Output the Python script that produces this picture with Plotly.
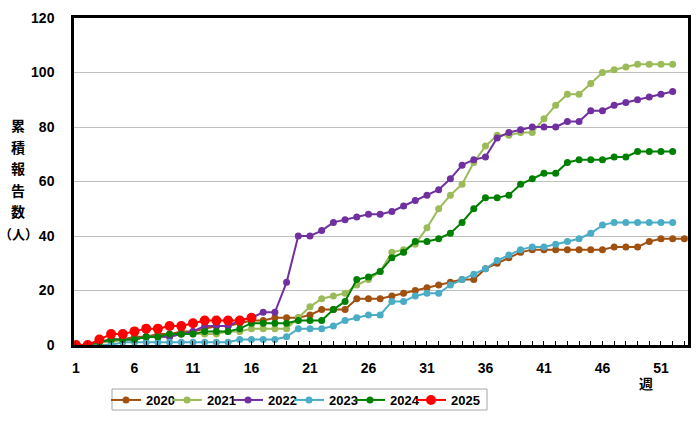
import plotly.graph_objects as go

weeks_2020 = list(range(1, 54))
weeks = list(range(1, 53))
weeks_2025 = list(range(1, 17))

y2020 = [0, 0, 1, 2, 2, 3, 3, 4, 4, 5, 5, 6, 7, 7, 8, 9, 9, 10, 10, 10,
         11, 13, 13, 13, 17, 17, 17, 18, 19, 20, 21, 22, 23, 24, 24, 28, 30, 32, 34, 35,
         35, 35, 35, 35, 35, 35, 36, 36, 36, 38, 39, 39, 39]
y2021 = [0, 0, 1, 1, 2, 2, 3, 3, 3, 4, 4, 4, 4, 5, 5, 6, 6, 6, 6, 10,
         14, 17, 18, 19, 22, 24, 27, 34, 35, 37, 43, 50, 55, 59, 67, 73, 77, 77, 78, 78,
         83, 88, 92, 92, 96, 100, 101, 102, 103, 103, 103, 103]
y2022 = [0, 0, 1, 2, 2, 2, 3, 3, 3, 4, 5, 7, 7, 7, 9, 10, 12, 12, 23, 40,
         40, 42, 45, 46, 47, 48, 48, 49, 51, 53, 55, 57, 61, 66, 68, 69, 76, 78, 79, 80,
         80, 80, 82, 82, 86, 86, 88, 89, 90, 91, 92, 93]
y2023 = [0, 0, 0, 0, 1, 1, 1, 1, 1, 1, 1, 1, 1, 1, 2, 2, 2, 2, 3, 6,
         6, 6, 7, 9, 10, 11, 11, 16, 16, 18, 19, 19, 22, 24, 26, 28, 31, 33, 35, 36,
         36, 37, 38, 39, 41, 44, 45, 45, 45, 45, 45, 45]
y2024 = [0, 0, 1, 2, 2, 2, 3, 3, 4, 4, 4, 5, 5, 5, 6, 8, 8, 8, 8, 9,
         9, 9, 13, 16, 24, 25, 27, 32, 34, 38, 38, 39, 41, 45, 50, 54, 54, 55, 59, 61,
         63, 63, 67, 68, 68, 68, 69, 69, 71, 71, 71, 71]
y2025 = [0, 0, 2, 4, 4, 5, 6, 6, 7, 7, 8, 9, 9, 9, 9, 10]

series = [
    ("2020", weeks_2020, y2020, "#A0500F", 7),
    ("2021", weeks, y2021, "#9BBB59", 7),
    ("2022", weeks, y2022, "#7030A0", 7),
    ("2023", weeks, y2023, "#4BACC6", 7),
    ("2024", weeks, y2024, "#008000", 7),
    ("2025", weeks_2025, y2025, "#FF0000", 10),
]

tick_labels = ["1", "6", "11", "16", "21", "26", "31", "36", "41", "46", "51"]
ytitle_chars = ["累", "積", "報", "告", "数", "（人）"]

FONT = "Liberation Sans, Arial, Noto Sans CJK JP, sans-serif"
CJK = "Noto Sans CJK JP"

L, R, T, B = 74, 12, 18, 82
PW, PH = 700 - L - R, 427 - T - B

def px(xp):
    return (xp - L) / PW

def py(yp):
    return (427 - B - yp) / PH

fig = go.Figure()
for name, xs, ys, color, msize in series:
    fig.add_trace(go.Scatter(
        x=xs, y=ys, name=name, mode="lines+markers",
        line=dict(color=color, width=2),
        marker=dict(color=color, size=msize),
    ))

all_weeks = list(range(1, 54))
ticktext = [str(w) if str(w) in tick_labels else "" for w in all_weeks]

annotations = []
for i, ch in enumerate(ytitle_chars):
    annotations.append(dict(
        text=ch, xref="paper", yref="paper",
        x=px(18), y=py(125 + i * 21.6), xanchor="center", yanchor="middle",
        showarrow=False,
        font=dict(family=CJK, size=14 if i < 5 else 13, color="black", weight="bold")))
annotations.append(dict(
    text="週", xref="paper", yref="paper",
    x=px(646), y=py(383), xanchor="center", yanchor="middle",
    showarrow=False,
    font=dict(family=CJK, size=14, color="black", weight="bold")))

fig.update_layout(
    width=700, height=427,
    margin=dict(l=L, r=R, t=T, b=B, autoexpand=False),
    paper_bgcolor="white", plot_bgcolor="white",
    font=dict(family=FONT, size=14, color="black"),
    showlegend=True,
    legend=dict(
        orientation="h", x=px(106), y=py(400), xanchor="left", yanchor="middle",
        borderwidth=0, bgcolor="rgba(0,0,0,0)",
        font=dict(family=FONT, size=13, color="black", weight="bold"),
        entrywidth=16, tracegroupgap=0,
    ),
    shapes=[dict(
        type="rect", xref="paper", yref="paper",
        x0=px(112), x1=px(487), y0=py(410), y1=py(389),
        line=dict(color="#A6A6A6", width=1), fillcolor="rgba(0,0,0,0)", layer="below",
    )],
    xaxis=dict(
        range=[0.83, 53.31], tickmode="array", tickvals=all_weeks, ticktext=ticktext,
        ticks="inside", ticklen=4, tickcolor="black", tickwidth=1,
        showgrid=False, zeroline=False, automargin=False,
        showline=True, linecolor="black", linewidth=2.5, mirror=True,
        tickfont=dict(family=FONT, size=14, color="black", weight="bold"),
        ticklabelstandoff=8,
    ),
    yaxis=dict(
        range=[0, 120], dtick=20, tick0=0,
        showgrid=True, gridcolor="#BFBFBF", gridwidth=1,
        zeroline=False, ticks="", automargin=False,
        showline=True, linecolor="black", linewidth=2.5, mirror=True,
        tickfont=dict(family=FONT, size=14, color="black", weight="bold"),
        ticklabelstandoff=14,
    ),
    annotations=annotations,
)

post = (
    "document.body.style.margin='0';document.body.style.padding='0';"
    "document.body.style.overflow='hidden';"
    "document.querySelectorAll('.legend .scrollbox, .legend g[clip-path]').forEach("
    "function(e){e.removeAttribute('clip-path');});"
)

fig.write_html("out.html", config={"displayModeBar": False}, post_script=post)
